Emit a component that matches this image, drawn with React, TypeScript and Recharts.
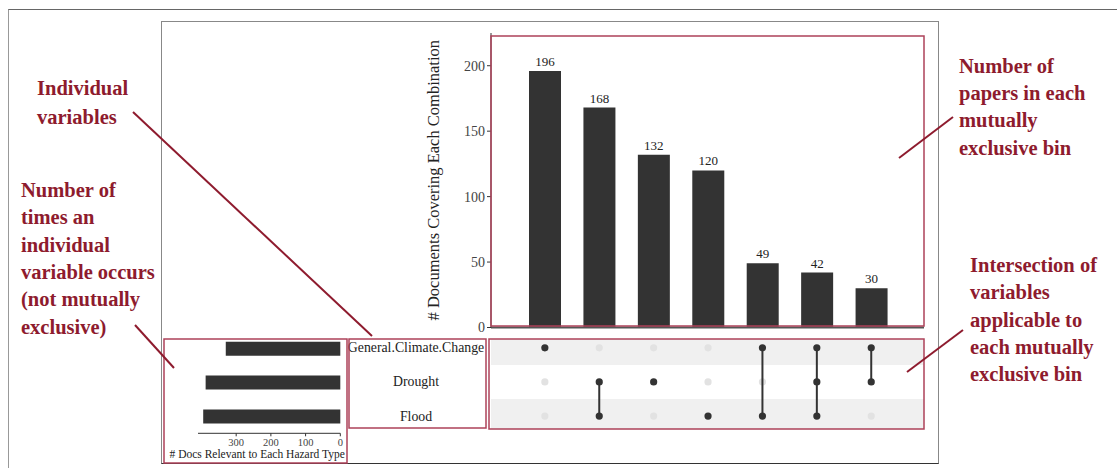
import React from 'react';
import { BarChart, Bar, XAxis, YAxis, LabelList, ScatterChart, Scatter, ReferenceArea } from 'recharts';

const SERIF = '"Liberation Serif", "DejaVu Serif", serif';
const RED = '#8e1b2e';
const BOX = '#ad4259';

// intersections, left to right
const combos = ['GCC', 'Drought+Flood', 'Drought', 'Flood', 'GCC+Flood', 'GCC+Drought+Flood', 'GCC+Drought'];
const comboCounts = [196, 168, 132, 120, 49, 42, 30];
const comboSets = [
  ['General.Climate.Change'],
  ['Drought', 'Flood'],
  ['Drought'],
  ['Flood'],
  ['General.Climate.Change', 'Flood'],
  ['General.Climate.Change', 'Drought', 'Flood'],
  ['General.Climate.Change', 'Drought'],
];
const countTicks = [0, 50, 100, 150, 200];

// single sets (top to bottom)
const setNames = ['General.Climate.Change', 'Drought', 'Flood'];
const setSizes = [330, 388, 395];
const sizeTicks = [0, 100, 200, 300];

const yTitle = '# Documents Covering Each Combination';
const sizeTitle = '# Docs Relevant to Each Hazard Type';

const notesLeftTop = ['Individual', 'variables'];
const notesLeft = ['Number of', 'times an', 'individual', 'variable occurs', '(not mutually', 'exclusive)'];
const notesRightTop = ['Number of', 'papers in each', 'mutually', 'exclusive bin'];
const notesRight = ['Intersection of', 'variables', 'applicable to', 'each mutually', 'exclusive bin'];

const comboData = combos.map((name, i) => ({ name, count: comboCounts[i] }));
const sizeData = setNames.map((name, i) => ({ name, size: setSizes[i] }));
const rowOf = (s: string) => setNames.length - setNames.indexOf(s);

const inactive = combos.flatMap((_, i) =>
  setNames.filter((s) => !comboSets[i].includes(s)).map((s) => ({ x: i + 1, y: rowOf(s) }))
);
const active = combos.map((_, i) =>
  comboSets[i].map((s) => ({ x: i + 1, y: rowOf(s) })).sort((a, b) => a.y - b.y)
);

const Dot = (color: string) => (p: any) => <circle cx={p.cx} cy={p.cy} r={3.6} fill={color} />;

const SetTick = (p: any) => (
  <text x={77} y={p.y} textAnchor="middle" dominantBaseline="central" fontSize={13.8} fontFamily={SERIF} fill="#222">
    {setNames[setNames.length - p.payload.value]}
  </text>
);

const noteStyle = { fontFamily: SERIF, fontWeight: 700, fontSize: 20.5, fill: RED };

export default function App() {
  return (
    <div style={{ position: 'absolute', left: 0, top: 0, width: 1117, height: 468, background: '#fff', overflow: 'hidden' }}>
      <div style={{ position: 'absolute', left: 8, top: 9, width: 1120, height: 470, borderTop: '1.5px solid #666', borderLeft: '1.5px solid #999' }} />
      <div style={{ position: 'absolute', left: 161, top: 21, width: 776, height: 441, border: '1.5px solid #888', borderBottomColor: '#333' }} />

      <div style={{ position: 'absolute', left: 380, top: 20 }}>
        <BarChart width={560} height={320} data={comboData} margin={{ top: 13, right: 16, bottom: 11.5, left: 48 }}>
          <XAxis dataKey="name" tick={false} tickLine={false} height={1} axisLine={{ stroke: '#555', strokeWidth: 2 }} padding={{ left: 27, right: 25 }} />
          <YAxis
            domain={[0, 225]}
            ticks={countTicks}
            width={63}
            tickSize={4}
            tick={{ fontSize: 14, fill: '#444', fontFamily: SERIF }}
            tickLine={{ stroke: '#333' }}
            axisLine={{ stroke: '#333' }}
            label={{ value: yTitle, angle: -90, position: 'insideLeft', offset: 5, style: { textAnchor: 'middle', fontSize: 16.5, fontFamily: SERIF, fill: '#222' } }}
          />
          <Bar dataKey="count" fill="#333" barSize={32} isAnimationActive={false}>
            <LabelList dataKey="count" position="top" offset={5} fontSize={13} fill="#222" fontFamily={SERIF} />
          </Bar>
        </BarChart>
      </div>

      <div style={{ position: 'absolute', left: 339, top: 325 }}>
        <ScatterChart width={591} height={115} margin={{ top: 14, right: 6, bottom: 11, left: 0 }}>
          <XAxis type="number" dataKey="x" domain={[0.01, 7.97]} hide />
          <YAxis type="number" dataKey="y" domain={[0.62, 3.26]} ticks={[1, 2, 3]} width={152} axisLine={false} tickLine={false} tick={<SetTick />} />
          <ReferenceArea y1={2.5} y2={3.26} fill="#f0f0f0" fillOpacity={1} stroke="none" />
          <ReferenceArea y1={0.62} y2={1.5} fill="#f0f0f0" fillOpacity={1} stroke="none" />
          <Scatter data={inactive} shape={Dot('#e2e2e2')} isAnimationActive={false} />
          {active.map((pts, i) => (
            <Scatter key={combos[i]} data={pts} shape={Dot('#333')} line={{ stroke: '#333', strokeWidth: 2 }} isAnimationActive={false} />
          ))}
        </ScatterChart>
      </div>

      <div style={{ position: 'absolute', left: 164, top: 325 }}>
        <BarChart layout="vertical" width={183} height={141} data={sizeData} margin={{ top: 6.7, right: 6.7, bottom: 2.7, left: 34 }}>
          <XAxis
            type="number"
            reversed
            domain={[0, 410]}
            ticks={sizeTicks}
            height={30}
            tickSize={3}
            tick={{ fontSize: 10.5, fill: '#444', fontFamily: SERIF }}
            tickLine={{ stroke: '#333' }}
            axisLine={{ stroke: '#333' }}
            label={{ value: sizeTitle, position: 'insideBottom', offset: 5, dx: -12, style: { fontSize: 11.5, fontFamily: SERIF, fill: '#222' } }}
          />
          <YAxis type="category" dataKey="name" hide />
          <Bar dataKey="size" fill="#333" barSize={14} isAnimationActive={false} />
        </BarChart>
      </div>

      <svg width={1117} height={468} style={{ position: 'absolute', left: 0, top: 0, pointerEvents: 'none' }}>
        <g fill="none" stroke={BOX} strokeWidth={1.5}>
          <rect x={491} y={36} width={433} height={290} />
          <rect x={489} y={339} width={435} height={90} />
          <rect x={349} y={339} width={137} height={89} />
          <rect x={164} y={339} width={183} height={124} />
        </g>
        <g stroke={RED} strokeWidth={2}>
          <line x1={133} y1={112} x2={372} y2={336} />
          <line x1={135} y1={325} x2={174} y2={368} />
          <line x1={899} y1={158} x2={953} y2={117} />
          <line x1={907} y1={372} x2={963} y2={330} />
        </g>
        {notesLeftTop.map((t, i) => (
          <text key={'a' + i} x={37} y={95 + i * 28.5} style={noteStyle}>{t}</text>
        ))}
        {notesLeft.map((t, i) => (
          <text key={'b' + i} x={21} y={197 + i * 27.3} style={noteStyle}>{t}</text>
        ))}
        {notesRightTop.map((t, i) => (
          <text key={'c' + i} x={959} y={73 + i * 27.2} style={noteStyle}>{t}</text>
        ))}
        {notesRight.map((t, i) => (
          <text key={'d' + i} x={970} y={272 + i * 27.3} style={noteStyle}>{t}</text>
        ))}
      </svg>
    </div>
  );
}
